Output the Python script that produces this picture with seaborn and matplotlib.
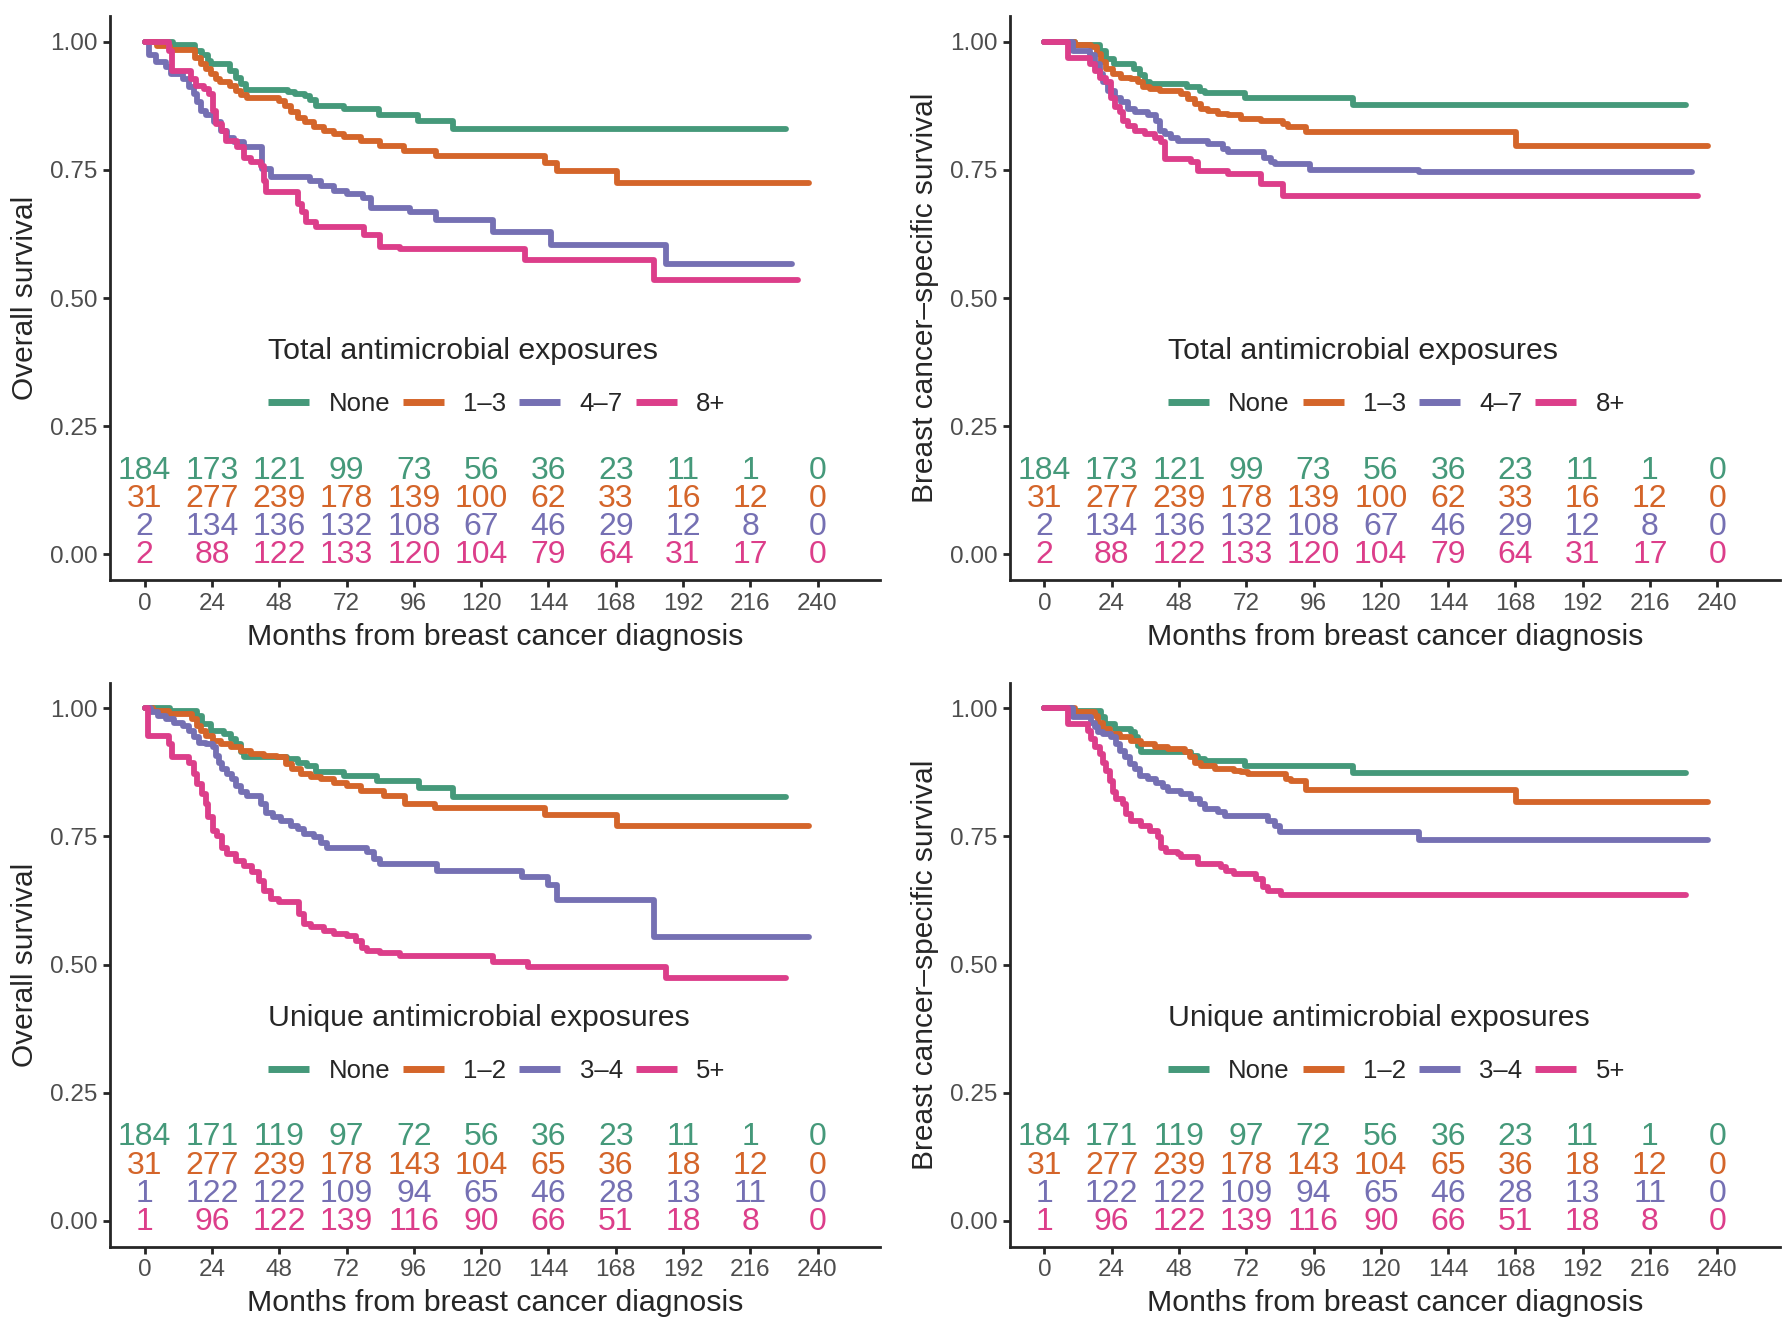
import numpy as np
import pandas as pd
import matplotlib
matplotlib.use('Agg')
import matplotlib.pyplot as plt
from matplotlib.lines import Line2D
import seaborn as sns

# %% data
group_colors = ['#45997A', '#D4652A', '#7570B3', '#DC3E8A']
risk_times = [0, 24, 48, 72, 96, 120, 144, 168, 192, 216, 240]

total_labels = ['None', '1–3', '4–7', '8+']
unique_labels = ['None', '1–2', '3–4', '5+']

# total exposures, number at risk
total_risk_none = [184, 173, 121, 99, 73, 56, 36, 23, 11, 1, 0]
total_risk_13 = [31, 277, 239, 178, 139, 100, 62, 33, 16, 12, 0]
total_risk_47 = [2, 134, 136, 132, 108, 67, 46, 29, 12, 8, 0]
total_risk_8 = [2, 88, 122, 133, 120, 104, 79, 64, 31, 17, 0]

# unique exposures, number at risk
unique_risk_none = [184, 171, 119, 97, 72, 56, 36, 23, 11, 1, 0]
unique_risk_12 = [31, 277, 239, 178, 143, 104, 65, 36, 18, 12, 0]
unique_risk_34 = [1, 122, 122, 109, 94, 65, 46, 28, 13, 11, 0]
unique_risk_5 = [1, 96, 122, 139, 116, 90, 66, 51, 18, 8, 0]

# last follow-up time of each curve (months)
end_none, end_low, end_mid, end_high = 228.7, 236.9, 231.0, 233.2

# --- overall survival, total exposures
os_tot_none_t = [0, 10, 18, 20.5, 22.5, 23.5, 30.5, 32.5, 34.5, 36, 51, 53.5, 57, 59, 61, 71, 83.5, 97.5, 110]
os_tot_none_s = [1, 0.993, 0.982, 0.973, 0.962, 0.956, 0.943, 0.930, 0.917, 0.906, 0.901, 0.898, 0.894, 0.886, 0.875, 0.868, 0.857, 0.845, 0.830]
os_tot_13_t = [0, 4.5, 9, 18, 20, 22, 23.5, 25.5, 27, 30.5, 32.5, 34.5, 36.5, 48, 50, 52, 54.5, 57, 60.5, 64, 67.5, 71, 77, 84, 92.5, 104, 142.8, 146.9, 168.4]
os_tot_13_s = [1, 0.992, 0.983, 0.969, 0.956, 0.947, 0.937, 0.927, 0.921, 0.914, 0.904, 0.895, 0.891, 0.885, 0.875, 0.862, 0.852, 0.843, 0.833, 0.826, 0.820, 0.815, 0.807, 0.797, 0.786, 0.776, 0.763, 0.748, 0.725]
os_tot_47_t = [0, 1.5, 4, 7.5, 9.3, 13.5, 15.8, 17.6, 18.8, 20, 21.8, 24.8, 27.1, 29.5, 32, 35.5, 42, 45, 59, 63, 67.5, 72, 78, 80.6, 94.8, 104, 124.4, 144.8, 185.8]
os_tot_47_s = [1, 0.973, 0.960, 0.950, 0.937, 0.927, 0.911, 0.898, 0.882, 0.865, 0.856, 0.843, 0.826, 0.813, 0.804, 0.794, 0.752, 0.736, 0.729, 0.719, 0.709, 0.703, 0.696, 0.676, 0.667, 0.652, 0.629, 0.604, 0.567]
os_tot_8_t = [0, 8.7, 9.9, 16.4, 18.2, 21.2, 23, 24.2, 25.4, 27.7, 28.9, 33, 35.5, 37.8, 41.4, 42.6, 43.2, 54.5, 56.2, 57.4, 61, 78.2, 84.1, 91.2, 135.6, 181.7]
os_tot_8_s = [1, 0.982, 0.943, 0.927, 0.914, 0.908, 0.898, 0.865, 0.839, 0.826, 0.807, 0.794, 0.774, 0.765, 0.758, 0.729, 0.706, 0.683, 0.667, 0.648, 0.638, 0.622, 0.600, 0.596, 0.574, 0.536]

# --- breast cancer-specific survival, total exposures
bc_tot_none_t = [0, 11, 19.7, 22, 25, 32, 34, 36, 37.5, 51, 55.4, 57.2, 71.4, 110.2]
bc_tot_none_s = [1, 0.994, 0.982, 0.966, 0.956, 0.947, 0.934, 0.921, 0.917, 0.911, 0.904, 0.900, 0.890, 0.877]
bc_tot_13_t = [0, 10.8, 16.8, 18.6, 20.3, 22.1, 24.5, 27.5, 31, 33.4, 35.2, 37.6, 41.1, 48.8, 51.2, 53.6, 56, 58.3, 61.9, 65.5, 70.2, 77.3, 85, 86.9, 93.4, 168.1]
bc_tot_13_s = [1, 0.994, 0.989, 0.976, 0.960, 0.947, 0.937, 0.930, 0.927, 0.921, 0.911, 0.908, 0.904, 0.898, 0.888, 0.878, 0.869, 0.864, 0.859, 0.856, 0.849, 0.846, 0.839, 0.833, 0.823, 0.797]
bc_tot_47_t = [0, 10.2, 16.2, 18, 19.7, 20.9, 22.7, 25.1, 27.5, 29.8, 32.2, 37, 39.9, 41.1, 42.9, 45.3, 47.6, 58.3, 63.7, 65.5, 78.5, 80.9, 82.1, 94.6, 133.5]
bc_tot_47_s = [1, 0.982, 0.973, 0.956, 0.937, 0.921, 0.904, 0.891, 0.882, 0.869, 0.862, 0.856, 0.846, 0.826, 0.820, 0.813, 0.807, 0.800, 0.791, 0.784, 0.774, 0.765, 0.761, 0.750, 0.745]
bc_tot_8_t = [0, 8.5, 16.2, 18, 19.7, 22.1, 23.9, 25.1, 26.9, 28.1, 29.8, 32.2, 35.8, 39.4, 41.7, 42.9, 52.4, 54.8, 65.5, 77.3, 85]
bc_tot_8_s = [1, 0.969, 0.956, 0.943, 0.930, 0.921, 0.891, 0.872, 0.862, 0.846, 0.836, 0.826, 0.820, 0.813, 0.804, 0.771, 0.765, 0.748, 0.742, 0.722, 0.698]

# --- overall survival, unique exposures
os_uni_none_t = [0, 9, 18.8, 20.6, 23.6, 28.3, 30.7, 32.5, 34.3, 35.5, 50.9, 54.5, 58, 61, 71, 83, 97.8, 110.1]
os_uni_none_s = [1, 0.995, 0.985, 0.969, 0.956, 0.950, 0.940, 0.930, 0.914, 0.904, 0.901, 0.894, 0.888, 0.875, 0.868, 0.858, 0.845, 0.826]
os_uni_12_t = [0, 3, 8.5, 17, 18.8, 20, 21.8, 24.2, 27.1, 30.7, 34.3, 37.8, 42.6, 47.3, 50.3, 52.7, 55.7, 59.2, 62.8, 67.5, 72.3, 77, 85.3, 93, 103.7, 142.8, 168.4]
os_uni_12_s = [1, 0.994, 0.988, 0.979, 0.966, 0.956, 0.946, 0.937, 0.930, 0.924, 0.917, 0.911, 0.907, 0.904, 0.891, 0.881, 0.872, 0.865, 0.862, 0.855, 0.849, 0.839, 0.829, 0.814, 0.805, 0.791, 0.770]
os_uni_34_t = [0, 2.2, 4.6, 7.5, 10.5, 13.5, 15.8, 17.6, 19.4, 21.8, 24.2, 25.4, 26.5, 27.7, 29.5, 31.3, 32.5, 34.3, 36.6, 41.4, 43.2, 45.6, 48.5, 52.1, 54.5, 56.8, 60.4, 62.8, 65.1, 79.4, 81.7, 84.1, 104.3, 134.6, 143.8, 146.9, 181.7]
os_uni_34_s = [1, 0.992, 0.985, 0.979, 0.972, 0.966, 0.956, 0.943, 0.933, 0.930, 0.924, 0.907, 0.894, 0.881, 0.872, 0.862, 0.849, 0.836, 0.829, 0.813, 0.796, 0.787, 0.780, 0.771, 0.764, 0.754, 0.748, 0.738, 0.728, 0.719, 0.706, 0.696, 0.683, 0.670, 0.655, 0.626, 0.554]
os_uni_5_t = [0, 1.2, 8.7, 9.9, 15.8, 17.6, 18.8, 20.6, 21.8, 22.7, 24.2, 25.9, 27.7, 29.5, 32.5, 35.5, 38.4, 40.8, 42.6, 44.9, 47.9, 55, 56.8, 59.2, 63.9, 67.5, 72.3, 75.2, 77.6, 79.4, 84.1, 91.2, 124.4, 136.7, 185.8]
os_uni_5_s = [1, 0.946, 0.930, 0.904, 0.894, 0.872, 0.852, 0.833, 0.813, 0.787, 0.761, 0.751, 0.728, 0.716, 0.703, 0.693, 0.680, 0.664, 0.644, 0.628, 0.622, 0.599, 0.579, 0.573, 0.566, 0.559, 0.556, 0.546, 0.533, 0.526, 0.523, 0.516, 0.505, 0.495, 0.473]

# --- breast cancer-specific survival, unique exposures
bc_uni_none_t = [0, 10, 20.3, 21.5, 25.1, 31, 32.2, 33.4, 34.6, 52.4, 54.8, 57.2, 71.4, 110.2]
bc_uni_none_s = [1, 0.994, 0.982, 0.969, 0.959, 0.953, 0.943, 0.927, 0.914, 0.907, 0.901, 0.897, 0.887, 0.873]
bc_uni_12_t = [0, 10.8, 18, 19.1, 20.9, 23.3, 26.9, 31, 34.6, 39.3, 44.1, 50, 51.8, 53.6, 56, 60.7, 67.8, 70.2, 72.6, 86.2, 88, 93.4, 168.1]
bc_uni_12_s = [1, 0.992, 0.985, 0.972, 0.959, 0.950, 0.943, 0.937, 0.930, 0.924, 0.920, 0.914, 0.904, 0.894, 0.888, 0.881, 0.878, 0.875, 0.872, 0.862, 0.858, 0.840, 0.817]
bc_uni_34_t = [0, 10.2, 16.8, 18, 19.1, 20.9, 23.9, 25.7, 26.9, 28.6, 30.4, 32.2, 34, 37, 39.9, 42.3, 44.1, 48.8, 52.4, 55.4, 57.2, 61.9, 64.3, 79.7, 82.1, 83.9, 133.5]
bc_uni_34_s = [1, 0.982, 0.972, 0.963, 0.953, 0.950, 0.943, 0.930, 0.917, 0.904, 0.891, 0.881, 0.868, 0.862, 0.855, 0.846, 0.839, 0.833, 0.823, 0.813, 0.803, 0.797, 0.790, 0.781, 0.771, 0.758, 0.743]
bc_uni_5_t = [0, 8.5, 15.6, 16.8, 18, 19.7, 20.9, 22.1, 23.3, 24.5, 25.7, 28.1, 29.2, 31, 34.6, 37.6, 40.5, 41.7, 43.5, 47.6, 48.8, 54.8, 63.1, 64.9, 67.8, 75.5, 78, 79.7, 84.5]
bc_uni_5_s = [1, 0.969, 0.956, 0.940, 0.924, 0.911, 0.894, 0.878, 0.858, 0.836, 0.823, 0.813, 0.793, 0.780, 0.771, 0.761, 0.748, 0.728, 0.719, 0.716, 0.709, 0.696, 0.690, 0.683, 0.677, 0.667, 0.651, 0.644, 0.636]


def curve_frame(curves, labels, ends):
    rows = []
    for (t, s), lab, end in zip(curves, labels, ends):
        # carry the last value out to the end of follow-up
        for ti, si in zip(list(t) + [end], list(s) + [s[-1]]):
            rows.append({'month': ti, 'surv': si, 'group': lab})
    return pd.DataFrame(rows)


def draw_panel(ax, curves, labels, ends, risk, ylabel, legend_title):
    df = curve_frame(curves, labels, ends)
    sns.lineplot(data=df, x='month', y='surv', hue='group', hue_order=labels,
                 palette=group_colors, drawstyle='steps-post', estimator=None,
                 sort=False, linewidth=4.2, legend=False, ax=ax)

    # number at risk, drawn inside the panel
    row_y = [0.163, 0.108, 0.053, -0.002]
    for counts, yy, col in zip(risk, row_y, group_colors):
        for xx, n in zip(risk_times, counts):
            ax.text(xx, yy, str(n), color=col, fontsize=23, ha='center', va='center')

    handles = [Line2D([], [], color=c, lw=5, solid_capstyle='butt') for c in group_colors]
    ax.legend(handles, labels, title=legend_title, ncol=4, loc='center left',
              bbox_to_anchor=(0.175, 0.36), frameon=False, fontsize=18.5,
              title_fontsize=21.8, handlelength=1.6, handletextpad=0.75,
              columnspacing=0.5, labelspacing=1.05, alignment='left')

    ax.set_xlim(-12.3, 262.4)
    ax.set_ylim(-0.05, 1.05)
    ax.set_xticks(risk_times)
    ax.set_yticks([0, 0.25, 0.5, 0.75, 1.0])
    ax.set_yticklabels(['0.00', '0.25', '0.50', '0.75', '1.00'])
    ax.set_xlabel('Months from breast cancer diagnosis', fontsize=21.8, labelpad=6)
    ax.set_ylabel(ylabel, fontsize=21.5, labelpad=8)
    ax.tick_params(labelsize=17.5, labelcolor='#4D4D4D', length=5, width=2, pad=4)
    for side in ['left', 'bottom']:
        ax.spines[side].set_linewidth(2)
    sns.despine(ax=ax)


sns.set_theme(style='ticks')
plt.rcParams['font.family'] = ['Liberation Sans', 'DejaVu Sans']

fig = plt.figure(figsize=(17.9, 13.34), dpi=100)
w, h = 0.4302, 0.4228
ax1 = fig.add_axes([0.0616, 0.5652, w, h])
ax2 = fig.add_axes([0.5642, 0.5652, w, h])
ax3 = fig.add_axes([0.0616, 0.0655, w, h])
ax4 = fig.add_axes([0.5642, 0.0655, w, h])

total_risk = [total_risk_none, total_risk_13, total_risk_47, total_risk_8]
unique_risk = [unique_risk_none, unique_risk_12, unique_risk_34, unique_risk_5]

draw_panel(ax1,
           [(os_tot_none_t, os_tot_none_s), (os_tot_13_t, os_tot_13_s),
            (os_tot_47_t, os_tot_47_s), (os_tot_8_t, os_tot_8_s)],
           total_labels, [end_none, end_low, end_mid, end_high], total_risk,
           'Overall survival', 'Total antimicrobial exposures')
draw_panel(ax2,
           [(bc_tot_none_t, bc_tot_none_s), (bc_tot_13_t, bc_tot_13_s),
            (bc_tot_47_t, bc_tot_47_s), (bc_tot_8_t, bc_tot_8_s)],
           total_labels, [end_none, end_low, end_mid, end_high], total_risk,
           'Breast cancer–specific survival', 'Total antimicrobial exposures')
draw_panel(ax3,
           [(os_uni_none_t, os_uni_none_s), (os_uni_12_t, os_uni_12_s),
            (os_uni_34_t, os_uni_34_s), (os_uni_5_t, os_uni_5_s)],
           unique_labels, [end_none, end_low, end_low, end_none], unique_risk,
           'Overall survival', 'Unique antimicrobial exposures')
draw_panel(ax4,
           [(bc_uni_none_t, bc_uni_none_s), (bc_uni_12_t, bc_uni_12_s),
            (bc_uni_34_t, bc_uni_34_s), (bc_uni_5_t, bc_uni_5_s)],
           unique_labels, [end_none, end_low, end_low, end_none], unique_risk,
           'Breast cancer–specific survival', 'Unique antimicrobial exposures')

fig.savefig('out.png', dpi=100)
